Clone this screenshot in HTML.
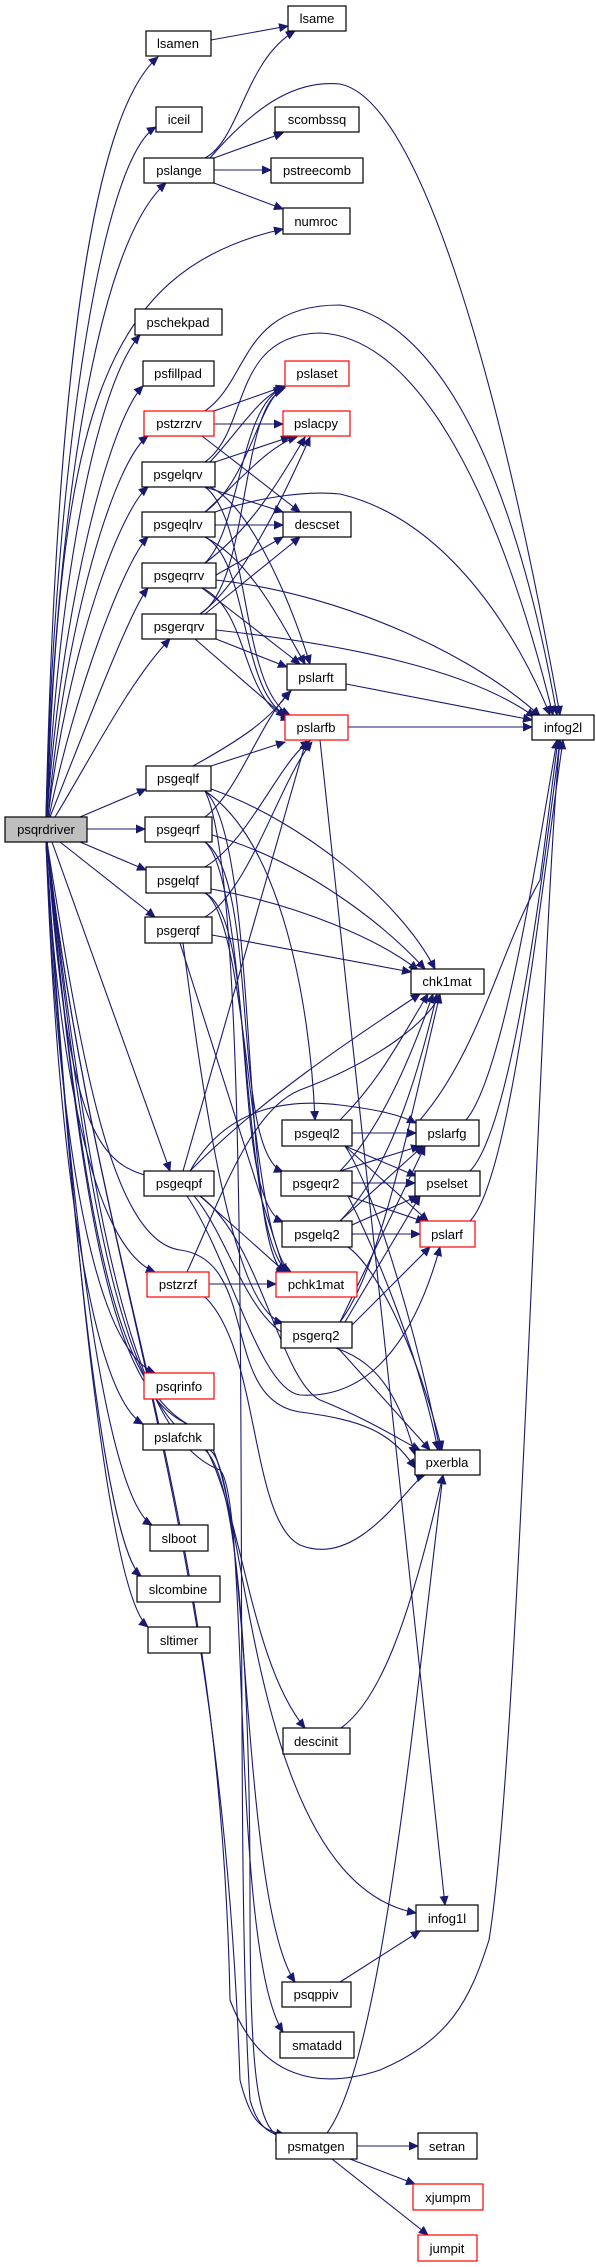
<!DOCTYPE html>
<html><head><meta charset="utf-8"><style>
html,body{margin:0;padding:0;background:#fff;}
svg{display:block;}
text{font-family:"Liberation Sans",Arial,sans-serif;font-size:13px;fill:#000;text-anchor:middle;}
.e{fill:none;stroke:#191970;stroke-width:1.1;marker-end:url(#a);}
.n rect{fill:#fff;stroke:#000;stroke-width:1.2;}
.r rect{fill:#fff;stroke:#ff0000;stroke-width:1.2;}
</style></head><body>
<svg width="596" height="2267" viewBox="0 0 596 2267" xmlns="http://www.w3.org/2000/svg">
<defs><marker id="a" markerUnits="userSpaceOnUse" markerWidth="10" markerHeight="9" refX="9" refY="4.5" orient="auto"><path d="M0,0 L10,4.5 L0,9 z" fill="#191970"/></marker></defs>
<g>
<!-- psqrdriver up -->
<path class="e" d="M46,817 C55,430 85,120 158,57"/>
<path class="e" d="M46,817 C55,470 100,160 156,127"/>
<path class="e" d="M46,817 C58,490 100,240 166,183"/>
<path class="e" d="M47,817 C60,420 100,270 283,229"/>
<path class="e" d="M47,817 C60,560 100,380 140,335"/>
<path class="e" d="M47,817 C62,600 110,420 143,386"/>
<path class="e" d="M48,817 C65,620 115,460 148,436"/>
<path class="e" d="M48,817 C68,650 120,510 148,487"/>
<path class="e" d="M49,817 C75,690 125,560 148,537"/>
<path class="e" d="M50,817 C85,730 130,610 148,588"/>
<path class="e" d="M55,817 C90,760 130,680 170,639"/>
<path class="e" d="M80,817 L146,789"/>
<path class="e" d="M87,829 L145,829"/>
<path class="e" d="M80,842 L146,870"/>
<path class="e" d="M60,842 L155,917"/>
<path class="e" d="M52,842 L170,1171"/>
<!-- psqrdriver down -->
<path class="e" d="M46,842 C60,1100 100,1250 155,1272"/>
<path class="e" d="M46,842 C60,1180 100,1350 155,1373"/>
<path class="e" d="M46,842 C60,1220 100,1400 143,1424"/>
<path class="e" d="M46,842 C70,1250 110,1500 152,1525"/>
<path class="e" d="M46,842 C75,1300 110,1550 141,1576"/>
<path class="e" d="M46,842 C80,1350 115,1600 148,1627"/>
<path class="e" d="M47,842 C70,1150 100,1170 170,1180 C220,1190 240,1330 300,1340 C350,1348 390,1360 415,1455"/>
<path class="e" d="M47,842 C80,1050 110,1240 180,1250 C260,1260 220,1400 300,1412 C360,1420 390,1430 415,1468"/>
<path class="e" d="M47,842 C80,1200 110,1380 180,1420 C240,1450 240,1650 305,1728"/>
<path class="e" d="M47,842 C85,1250 120,1400 200,1430 C250,1460 240,1880 416,1913"/>
<path class="e" d="M47,842 C90,1250 130,1420 210,1450 C250,1480 240,1900 295,1982"/>
<path class="e" d="M47,842 C95,1260 140,1440 220,1470 C250,1500 230,1950 283,2032"/>
<path class="e" d="M47,842 C100,1300 220,1500 240,2080 C250,2120 260,2130 285,2135"/>
<path class="e" d="M47,842 C100,1300 220,1500 230,2000 C260,2080 320,2090 380,2070 C450,2040 470,2000 489,1940 C520,1750 540,950 560,740"/>
<!-- top area -->
<path class="e" d="M211,40 L288,26"/>
<path class="e" d="M205,158 C240,140 245,60 295,31"/>
<path class="e" d="M210,158 C260,100 300,80 340,84 C420,100 500,380 560,715"/>
<path class="e" d="M214,158 L283,133"/>
<path class="e" d="M214,170 L271,170"/>
<path class="e" d="M214,183 L283,209"/>
<path class="e" d="M205,411 C250,380 240,305 340,305 C430,318 510,450 557,715"/>
<path class="e" d="M214,411 L285,386"/>
<path class="e" d="M214,424 L283,424"/>
<path class="e" d="M202,436 L300,512"/>
<path class="e" d="M205,462 C250,430 230,335 320,333 C420,337 500,500 553,715"/>
<path class="e" d="M210,462 C240,430 260,395 285,387"/>
<path class="e" d="M215,462 L290,437"/>
<path class="e" d="M205,487 L283,512"/>
<path class="e" d="M210,487 C250,505 290,600 310,664"/>
<path class="e" d="M205,487 C250,520 240,690 290,715"/>
<path class="e" d="M205,512 C250,480 260,395 285,388"/>
<path class="e" d="M205,512 C240,480 270,445 297,437"/>
<path class="e" d="M215,525 L283,525"/>
<path class="e" d="M215,512 C250,500 300,490 340,494 C450,520 520,640 550,715"/>
<path class="e" d="M205,537 C250,560 280,620 305,664"/>
<path class="e" d="M205,537 C250,560 240,700 290,717"/>
<path class="e" d="M205,563 C240,530 240,405 283,388"/>
<path class="e" d="M205,563 C250,530 280,480 305,437"/>
<path class="e" d="M216,575 L283,537"/>
<path class="e" d="M216,580 C350,595 480,660 540,716"/>
<path class="e" d="M202,588 L300,664"/>
<path class="e" d="M202,588 C250,610 240,700 290,720"/>
<path class="e" d="M200,614 C250,585 240,405 283,390"/>
<path class="e" d="M200,614 C240,585 280,505 310,437"/>
<path class="e" d="M205,614 L300,537"/>
<path class="e" d="M216,630 C350,645 470,670 535,717"/>
<path class="e" d="M216,639 L287,667"/>
<path class="e" d="M195,639 L285,717"/>
<path class="e" d="M346,684 L532,720"/>
<path class="e" d="M348,727 L532,727"/>
<path class="e" d="M320,740 L445,1905"/>
<!-- psgeXXf -->
<path class="e" d="M193,766 C240,740 270,720 290,691"/>
<path class="e" d="M211,766 L285,742"/>
<path class="e" d="M211,789 C300,820 400,900 435,969"/>
<path class="e" d="M205,791 C280,840 310,1000 315,1120"/>
<path class="e" d="M205,791 C260,840 240,1250 285,1273"/>
<path class="e" d="M205,817 C240,790 260,720 291,691"/>
<path class="e" d="M212,835 C300,860 380,920 425,969"/>
<path class="e" d="M205,842 C260,880 230,1150 283,1172"/>
<path class="e" d="M205,842 C250,880 240,1250 290,1273"/>
<path class="e" d="M205,867 C250,840 280,760 310,741"/>
<path class="e" d="M211,889 C300,905 380,940 418,970"/>
<path class="e" d="M205,893 C260,920 230,1200 283,1222"/>
<path class="e" d="M205,893 C250,920 250,1250 292,1273"/>
<path class="e" d="M205,917 C250,890 280,780 312,742"/>
<path class="e" d="M212,935 L411,972"/>
<path class="e" d="M180,943 L285,1273"/>
<path class="e" d="M183,943 C200,1070 230,1310 283,1323"/>
<path class="e" d="M183,1171 L306,741"/>
<path class="e" d="M190,1171 C260,1100 350,1040 420,994"/>
<path class="e" d="M190,1171 C230,1100 300,1100 340,1105 C380,1110 400,1115 416,1123"/>
<path class="e" d="M200,1196 L285,1272"/>
<path class="e" d="M200,1196 C260,1240 280,1380 320,1400 C370,1420 400,1440 420,1450"/>
<path class="e" d="M187,1196 C230,1260 260,1390 300,1395 C380,1400 420,1320 440,1247"/>
<path class="e" d="M187,1272 C220,1200 250,1110 300,1090 C380,1060 430,1020 440,994"/>
<path class="e" d="M209,1284 L276,1284"/>
<path class="e" d="M205,1297 C260,1350 250,1520 300,1545 C360,1570 410,1480 425,1475"/>
<path class="e" d="M205,1450 C240,1480 250,1700 250,1900 C250,2100 260,2130 285,2140"/>
<path class="e" d="M205,791 C260,900 230,1800 250,2100 C258,2128 268,2132 285,2138"/>
<!-- level 2 -->
<path class="e" d="M352,1133 L416,1133"/>
<path class="e" d="M340,1120 C380,1080 400,1040 428,994"/>
<path class="e" d="M345,1146 L416,1176"/>
<path class="e" d="M345,1146 L428,1221"/>
<path class="e" d="M345,1146 C380,1200 420,1350 440,1450"/>
<path class="e" d="M352,1183 L415,1183"/>
<path class="e" d="M340,1171 C380,1130 410,1060 433,994"/>
<path class="e" d="M340,1171 L420,1146"/>
<path class="e" d="M348,1196 L425,1222"/>
<path class="e" d="M348,1196 C380,1260 420,1360 438,1450"/>
<path class="e" d="M352,1234 L420,1234"/>
<path class="e" d="M340,1221 C380,1180 410,1110 437,994"/>
<path class="e" d="M340,1221 L423,1146"/>
<path class="e" d="M345,1228 L418,1196"/>
<path class="e" d="M348,1247 C380,1270 420,1360 442,1450"/>
<path class="e" d="M340,1322 C380,1270 410,1120 440,994"/>
<path class="e" d="M340,1322 L425,1146"/>
<path class="e" d="M345,1322 L420,1196"/>
<path class="e" d="M350,1327 L430,1247"/>
<path class="e" d="M338,1348 L430,1450"/>
<path class="e" d="M466,1120 C500,1080 530,900 557,740"/>
<path class="e" d="M470,1171 C510,1130 540,900 560,740"/>
<path class="e" d="M470,1221 C510,1180 540,900 563,740"/>
<path class="e" d="M420,1120 C480,1050 500,950 540,880 C550,800 555,760 558,740"/>
<!-- bottom -->
<path class="e" d="M341,1728 C380,1700 410,1620 443,1475"/>
<path class="e" d="M340,1982 L420,1931"/>
<path class="e" d="M327,2133 C380,2060 410,1750 443,1475"/>
<path class="e" d="M357,2146 L418,2146"/>
<path class="e" d="M350,2159 L415,2184"/>
<path class="e" d="M332,2159 L428,2235"/>
</g>
<!-- nodes -->
<g class="n"><rect x="5" y="817" width="82" height="25" style="fill:#bfbfbf"/><text x="46" y="834">psqrdriver</text></g>
<g class="n"><rect x="288" y="6" width="58" height="25"/><text x="317" y="23">lsame</text></g>
<g class="n"><rect x="146" y="31" width="65" height="25"/><text x="178" y="48">lsamen</text></g>
<g class="n"><rect x="156" y="107" width="46" height="25"/><text x="179" y="124">iceil</text></g>
<g class="n"><rect x="144" y="158" width="70" height="25"/><text x="179" y="175">pslange</text></g>
<g class="n"><rect x="275" y="107" width="84" height="25"/><text x="317" y="124">scombssq</text></g>
<g class="n"><rect x="271" y="158" width="92" height="25"/><text x="317" y="175">pstreecomb</text></g>
<g class="n"><rect x="283" y="208" width="67" height="26"/><text x="316" y="226">numroc</text></g>
<g class="n"><rect x="135" y="309" width="87" height="26"/><text x="178" y="327">pschekpad</text></g>
<g class="n"><rect x="143" y="361" width="71" height="25"/><text x="178" y="378">psfillpad</text></g>
<g class="r"><rect x="144" y="411" width="70" height="25"/><text x="179" y="428">pstzrzrv</text></g>
<g class="r"><rect x="285" y="361" width="64" height="25"/><text x="317" y="378">pslaset</text></g>
<g class="r"><rect x="283" y="411" width="67" height="25"/><text x="316" y="428">pslacpy</text></g>
<g class="n"><rect x="142" y="462" width="73" height="25"/><text x="178" y="479">psgelqrv</text></g>
<g class="n"><rect x="142" y="512" width="73" height="25"/><text x="178" y="529">psgeqlrv</text></g>
<g class="n"><rect x="283" y="512" width="68" height="25"/><text x="317" y="529">descset</text></g>
<g class="n"><rect x="142" y="563" width="74" height="25"/><text x="179" y="580">psgeqrrv</text></g>
<g class="n"><rect x="142" y="614" width="74" height="25"/><text x="179" y="631">psgerqrv</text></g>
<g class="n"><rect x="287" y="664" width="59" height="26"/><text x="316" y="682">pslarft</text></g>
<g class="r"><rect x="285" y="715" width="63" height="25"/><text x="316" y="732">pslarfb</text></g>
<g class="n"><rect x="532" y="715" width="62" height="25"/><text x="563" y="732">infog2l</text></g>
<g class="n"><rect x="146" y="766" width="65" height="25"/><text x="178" y="783">psgeqlf</text></g>
<g class="n"><rect x="145" y="817" width="67" height="25"/><text x="178" y="834">psgeqrf</text></g>
<g class="n"><rect x="146" y="867" width="65" height="26"/><text x="178" y="885">psgelqf</text></g>
<g class="n"><rect x="145" y="917" width="67" height="26"/><text x="178" y="935">psgerqf</text></g>
<g class="n"><rect x="411" y="969" width="73" height="25"/><text x="447" y="986">chk1mat</text></g>
<g class="n"><rect x="282" y="1120" width="70" height="26"/><text x="317" y="1138">psgeql2</text></g>
<g class="n"><rect x="416" y="1120" width="63" height="26"/><text x="447" y="1138">pslarfg</text></g>
<g class="n"><rect x="144" y="1171" width="70" height="25"/><text x="179" y="1188">psgeqpf</text></g>
<g class="n"><rect x="281" y="1171" width="71" height="25"/><text x="316" y="1188">psgeqr2</text></g>
<g class="n"><rect x="415" y="1171" width="65" height="25"/><text x="447" y="1188">pselset</text></g>
<g class="n"><rect x="282" y="1221" width="70" height="26"/><text x="317" y="1239">psgelq2</text></g>
<g class="r"><rect x="420" y="1221" width="55" height="26"/><text x="447" y="1239">pslarf</text></g>
<g class="r"><rect x="147" y="1272" width="62" height="25"/><text x="178" y="1289">pstzrzf</text></g>
<g class="r"><rect x="276" y="1272" width="81" height="25"/><text x="316" y="1289">pchk1mat</text></g>
<g class="n"><rect x="281" y="1322" width="71" height="26"/><text x="316" y="1340">psgerq2</text></g>
<g class="r"><rect x="144" y="1373" width="70" height="26"/><text x="179" y="1391">psqrinfo</text></g>
<g class="n"><rect x="143" y="1424" width="71" height="26"/><text x="178" y="1442">pslafchk</text></g>
<g class="n"><rect x="415" y="1450" width="65" height="25"/><text x="447" y="1467">pxerbla</text></g>
<g class="n"><rect x="150" y="1525" width="58" height="26"/><text x="179" y="1543">slboot</text></g>
<g class="n"><rect x="137" y="1576" width="83" height="26"/><text x="178" y="1594">slcombine</text></g>
<g class="n"><rect x="148" y="1627" width="62" height="26"/><text x="179" y="1645">sltimer</text></g>
<g class="n"><rect x="283" y="1728" width="67" height="26"/><text x="316" y="1746">descinit</text></g>
<g class="n"><rect x="416" y="1905" width="62" height="26"/><text x="447" y="1923">infog1l</text></g>
<g class="n"><rect x="282" y="1982" width="69" height="25"/><text x="316" y="1999">psqppiv</text></g>
<g class="n"><rect x="280" y="2032" width="74" height="26"/><text x="317" y="2050">smatadd</text></g>
<g class="n"><rect x="276" y="2133" width="81" height="26"/><text x="316" y="2151">psmatgen</text></g>
<g class="n"><rect x="418" y="2133" width="59" height="26"/><text x="447" y="2151">setran</text></g>
<g class="r"><rect x="413" y="2184" width="70" height="26"/><text x="448" y="2202">xjumpm</text></g>
<g class="r"><rect x="418" y="2235" width="59" height="26"/><text x="447" y="2253">jumpit</text></g>
</svg>
</body></html>
